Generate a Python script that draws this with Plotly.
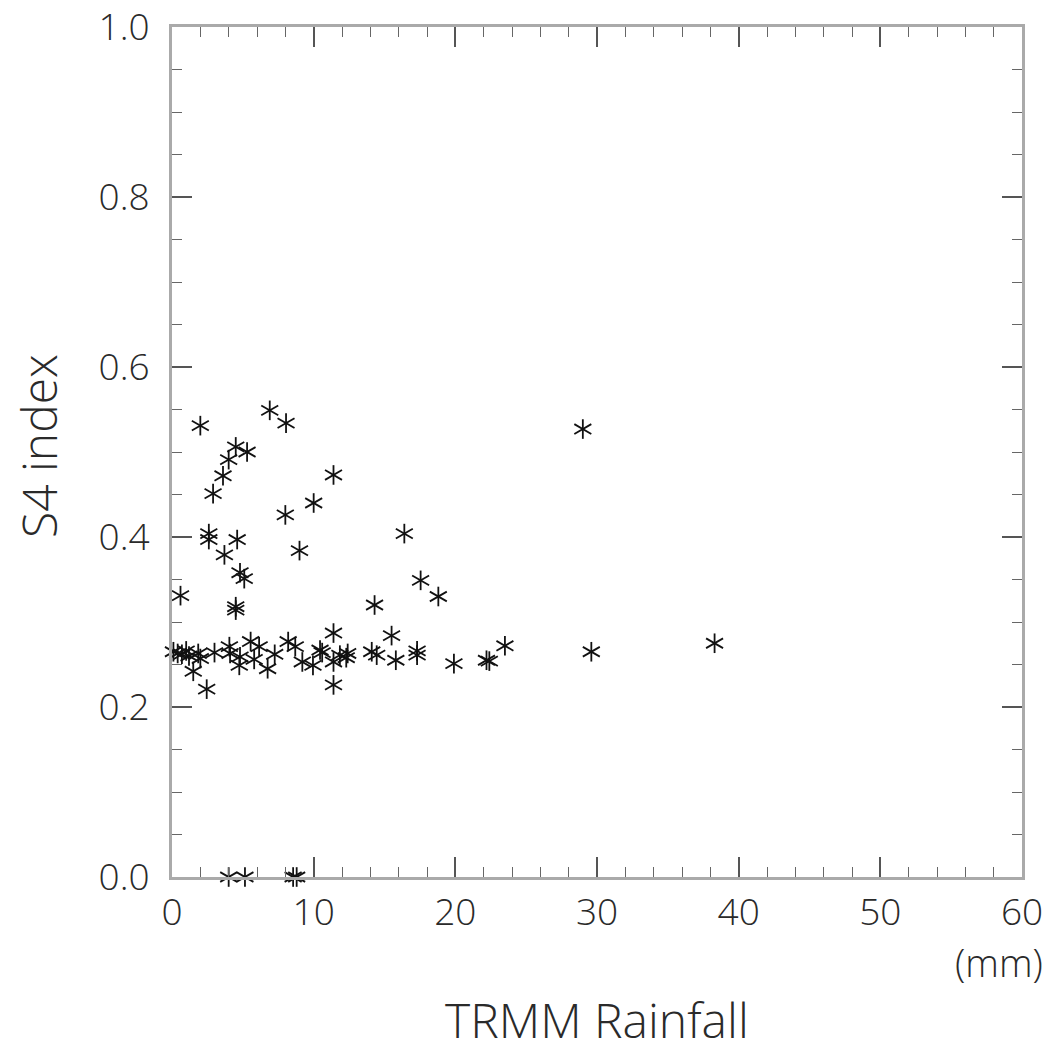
import plotly.graph_objects as go

# TRMM rainfall (mm) and S4 index values
rainfall = [
    2.0, 6.9, 8.05, 4.5, 5.3, 4.0, 3.6, 11.4, 2.9, 10.0, 8.0, 2.6, 2.6, 4.6, 3.7, 9.0, 4.8, 5.1, 0.6, 4.5, 4.5,
    16.4, 17.55, 18.8, 14.3, 15.5, 23.5, 14.1, 14.45, 15.8, 17.3, 17.3, 19.9, 22.2, 22.4, 12.4,
    29.0, 29.6, 38.3,
    4.0, 5.15, 8.55, 8.8,
    0.1, 0.4, 0.7, 1.0, 1.2, 1.5, 2.45, 1.85, 2.0, 3.0, 4.05, 4.1, 4.8, 4.75, 5.55, 5.8, 6.15, 6.75,
    7.25, 8.2, 8.7, 9.2, 9.95, 10.45, 10.6, 11.4, 11.4, 11.4, 11.85, 12.3,
]
s4_index = [
    0.531, 0.549, 0.534, 0.506, 0.500, 0.491, 0.472, 0.473, 0.451, 0.440, 0.426, 0.404, 0.397, 0.397,
    0.379, 0.384, 0.358, 0.351, 0.331, 0.318, 0.314,
    0.404, 0.349, 0.330, 0.320, 0.284, 0.272, 0.265, 0.261, 0.255, 0.266, 0.261, 0.251, 0.255, 0.254, 0.263,
    0.527, 0.265, 0.275,
    0.0, 0.0, 0.0, 0.0,
    0.265, 0.263, 0.262, 0.266, 0.260, 0.242, 0.221, 0.263, 0.257, 0.264, 0.271, 0.263, 0.259, 0.249,
    0.277, 0.256, 0.271, 0.245, 0.262, 0.277, 0.271, 0.253, 0.249, 0.267, 0.264, 0.287, 0.253, 0.226,
    0.261, 0.258,
]

x_ticks = [0, 10, 20, 30, 40, 50, 60]
y_ticks = [0.0, 0.2, 0.4, 0.6, 0.8, 1.0]

FONT = "Open Sans, DejaVu Sans, sans-serif"
TXT = "#2a2a2a"
W = 300

fig = go.Figure()
# six-armed asterisk: three rotated line markers
for ang in (0, 60, -60):
    fig.add_trace(go.Scatter(
        x=rainfall, y=s4_index, mode="markers", cliponaxis=False, showlegend=False,
        hoverinfo="skip",
        marker=dict(symbol="line-ns-open", size=14, angle=ang, color="#111111",
                    line=dict(color="#111111", width=1.8)),
    ))

axis_common = dict(
    showgrid=False, zeroline=False, showline=True, linecolor="#aaaaaa", linewidth=3,
    mirror="ticks", ticks="inside", ticklen=20, tickwidth=1.5, tickcolor="#555555",
    tickfont=dict(family=FONT, size=37, color=TXT, weight=W), ticklabeloverflow="allow",
    automargin=False,
)

fig.update_xaxes(range=[0, 60], tickvals=x_ticks, ticklabelstandoff=1,
                 minor=dict(ticks="inside", dtick=2, ticklen=10, tickwidth=1.2, tickcolor="#666666"),
                 **axis_common)
fig.update_yaxes(range=[0, 1], tickvals=y_ticks, tickformat=".1f", ticklabelstandoff=12,
                 minor=dict(ticks="inside", dtick=0.05, ticklen=10, tickwidth=1.2, tickcolor="#666666"),
                 **axis_common)

fig.update_layout(
    width=1044, height=1039, autosize=False,
    margin=dict(l=164, r=30, t=19, b=170),
    paper_bgcolor="white", plot_bgcolor="white",
    annotations=[
        dict(text="TRMM Rainfall", xref="paper", yref="paper", x=0.5, y=0, yshift=-142,
             xanchor="center", yanchor="middle", showarrow=False,
             font=dict(family=FONT, size=48, color=TXT, weight=W)),
        dict(text="S4 index", xref="paper", yref="paper", x=0, y=0.507, xshift=-134,
             xanchor="center", yanchor="middle", textangle=-90, showarrow=False,
             font=dict(family=FONT, size=48, color=TXT, weight=W)),
        dict(text="(mm)", xref="paper", yref="paper", x=1, y=0, xshift=23, yshift=-85,
             xanchor="right", yanchor="middle", showarrow=False,
             font=dict(family=FONT, size=38, color=TXT, weight=W)),
    ],
)

fig.write_html("out.html")
